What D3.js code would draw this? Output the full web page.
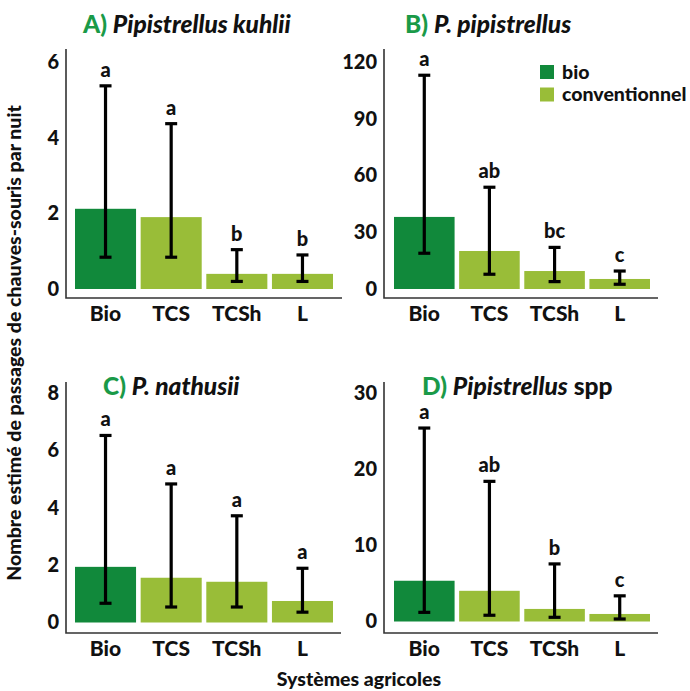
<!DOCTYPE html>
<html>
<head>
<meta charset="utf-8">
<script src="https://cdn.jsdelivr.net/npm/d3@7"></script>
<style>
  body { margin: 0; background: #fff; }
  svg { font-family: Lato, "Open Sans", sans-serif; font-weight: 900; }
</style>
</head>
<body>
<div id="chart"></div>
<script>
"use strict";
// categories and groups
const categories = ["Bio", "TCS", "TCSh", "L"];
const farming = ["bio", "conventionnel", "conventionnel", "conventionnel"];
const legendLabels = ["bio", "conventionnel"];

// A) Pipistrellus kuhlii
const kuhliiMean = [2.12, 1.90, 0.40, 0.40];
const kuhliiLow = [0.84, 0.84, 0.20, 0.20];
const kuhliiHigh = [5.37, 4.37, 1.04, 0.90];
const kuhliiLetters = ["a", "a", "b", "b"];
const kuhliiTicks = [0, 2, 4, 6];

// B) P. pipistrellus
const pipMean = [38.1, 20.1, 9.5, 5.3];
const pipLow = [18.9, 7.8, 3.9, 2.5];
const pipHigh = [113, 53.8, 22, 9.5];
const pipLetters = ["a", "ab", "bc", "c"];
const pipTicks = [0, 30, 60, 90, 120];

// C) P. nathusii
const nathMean = [1.94, 1.56, 1.42, 0.75];
const nathLow = [0.67, 0.54, 0.54, 0.36];
const nathHigh = [6.52, 4.83, 3.72, 1.89];
const nathLetters = ["a", "a", "a", "a"];
const nathTicks = [0, 2, 4, 6, 8];

// D) Pipistrellus spp
const sppMean = [5.35, 4.03, 1.65, 0.99];
const sppLow = [1.2, 0.82, 0.55, 0.33];
const sppHigh = [25.4, 18.4, 7.56, 3.37];
const sppLetters = ["a", "ab", "b", "c"];
const sppTicks = [0, 10, 20, 30];

const color = d3.scaleOrdinal().domain(legendLabels).range(["#11893b", "#99bd38"]);
const titleGreen = "#1a9a48";

const svg = d3.select("#chart").append("svg")
    .attr("width", 690)
    .attr("height", 691)
    .attr("viewBox", "0 0 690 691");

function rows(mean, low, high, letters) {
    return categories.map((c, i) => ({
        cat: c, group: farming[i], mean: mean[i], low: low[i], high: high[i], letter: letters[i]
    }));
}

const panels = [
    { tag: "A)", title: [["Pipistrellus kuhlii", true]], data: rows(kuhliiMean, kuhliiLow, kuhliiHigh, kuhliiLetters),
      ticks: kuhliiTicks, ax: 66, top: 49, bottom: 298, right: 342, zero: 289, topY: 62, bars: [75, 333], tx: 83, ty: 33 },
    { tag: "B)", title: [["P. pipistrellus", true]], data: rows(pipMean, pipLow, pipHigh, pipLetters),
      ticks: pipTicks, ax: 384, top: 49, bottom: 298, right: 658, zero: 289, topY: 62, bars: [394, 650], tx: 405, ty: 33, legend: true },
    { tag: "C)", title: [["P. nathusii", true]], data: rows(nathMean, nathLow, nathHigh, nathLetters),
      ticks: nathTicks, ax: 66, top: 382, bottom: 633, right: 341, zero: 622.5, topY: 393, bars: [75, 333], tx: 103, ty: 395 },
    { tag: "D)", title: [["Pipistrellus", true], [" spp", false]], data: rows(sppMean, sppLow, sppHigh, sppLetters),
      ticks: sppTicks, ax: 384, top: 382, bottom: 633, right: 658, zero: 621.5, topY: 393, bars: [394, 650], tx: 422, ty: 395 }
];

panels.forEach(p => {
    const g = svg.append("g");
    const y = d3.scaleLinear()
        .domain([0, d3.max(p.ticks)])
        .range([p.zero, p.topY]);
    const x = d3.scaleBand()
        .domain(categories)
        .range(p.bars)
        .paddingInner(0.07)
        .paddingOuter(0);

    // axis lines
    g.append("path")
        .attr("d", `M${p.ax},${p.top}V${p.bottom}H${p.right}`)
        .attr("fill", "none")
        .attr("stroke", "#333")
        .attr("stroke-width", 1.6);

    const yAxis = g.append("g")
        .attr("transform", `translate(${p.ax - 7},0)`)
        .call(d3.axisLeft(y).tickValues(p.ticks).tickFormat(d3.format("d")).tickSize(0).tickPadding(0));
    yAxis.select(".domain").remove();
    yAxis.selectAll("text")
        .attr("font-family", "Lato, sans-serif")
        .attr("font-weight", 900)
        .attr("font-size", 20)
        .attr("fill", "#111");

    const xAxis = g.append("g")
        .attr("transform", `translate(0,${p.bottom})`)
        .call(d3.axisBottom(x).tickSize(0).tickPadding(8));
    xAxis.select(".domain").remove();
    xAxis.selectAll("text")
        .attr("font-family", "Lato, sans-serif")
        .attr("font-weight", 900)
        .attr("font-size", 21)
        .attr("fill", "#111");

    // bars
    g.selectAll("rect.bar")
        .data(p.data)
        .join("rect")
        .attr("class", "bar")
        .attr("x", d => x(d.cat))
        .attr("width", x.bandwidth())
        .attr("y", d => y(d.mean))
        .attr("height", d => y(0) - y(d.mean))
        .attr("fill", d => color(d.group));

    // error bars
    const capW = 12;
    const eb = g.selectAll("g.err")
        .data(p.data)
        .join("g")
        .attr("class", "err")
        .attr("stroke", "#000")
        .attr("stroke-width", 3.2);
    eb.append("line")
        .attr("x1", d => x(d.cat) + x.bandwidth() / 2)
        .attr("x2", d => x(d.cat) + x.bandwidth() / 2)
        .attr("y1", d => y(d.low))
        .attr("y2", d => y(d.high));
    eb.append("line")
        .attr("x1", d => x(d.cat) + x.bandwidth() / 2 - capW / 2)
        .attr("x2", d => x(d.cat) + x.bandwidth() / 2 + capW / 2)
        .attr("y1", d => y(d.high))
        .attr("y2", d => y(d.high));
    eb.append("line")
        .attr("x1", d => x(d.cat) + x.bandwidth() / 2 - capW / 2)
        .attr("x2", d => x(d.cat) + x.bandwidth() / 2 + capW / 2)
        .attr("y1", d => y(d.low))
        .attr("y2", d => y(d.low));

    // significance letters
    g.selectAll("text.letter")
        .data(p.data)
        .join("text")
        .attr("class", "letter")
        .attr("x", d => x(d.cat) + x.bandwidth() / 2)
        .attr("y", d => y(d.high) - 9)
        .attr("text-anchor", "middle")
        .attr("font-size", 20)
        .attr("fill", "#111")
        .text(d => d.letter);

    // title
    const t = g.append("text")
        .attr("x", p.tx)
        .attr("y", p.ty)
        .attr("font-size", 24.5);
    t.append("tspan").attr("fill", titleGreen).text(p.tag + " ");
    p.title.forEach(([s, it]) => {
        t.append("tspan")
            .attr("fill", "#111")
            .attr("font-style", it ? "italic" : "normal")
            .text(s);
    });

    if (p.legend) {
        const lg = g.append("g").attr("transform", "translate(540,65)");
        legendLabels.forEach((l, i) => {
            lg.append("rect")
                .attr("x", 0)
                .attr("y", i * 22.5)
                .attr("width", 14)
                .attr("height", 14)
                .attr("fill", color(l));
            lg.append("text")
                .attr("x", 22)
                .attr("y", i * 22.5 + 7)
                .attr("dy", "0.35em")
                .attr("font-size", 19.5)
                .attr("fill", "#111")
                .text(l);
        });
    }
});

// shared axis titles
svg.append("text")
    .attr("transform", "translate(21,343) rotate(-90)")
    .attr("text-anchor", "middle")
    .attr("font-size", 19.5)
    .attr("fill", "#111")
    .text("Nombre estimé de passages de chauves-souris par nuit");

svg.append("text")
    .attr("x", 359)
    .attr("y", 686)
    .attr("text-anchor", "middle")
    .attr("font-size", 19.5)
    .attr("fill", "#111")
    .text("Systèmes agricoles");
</script>
</body>
</html>
